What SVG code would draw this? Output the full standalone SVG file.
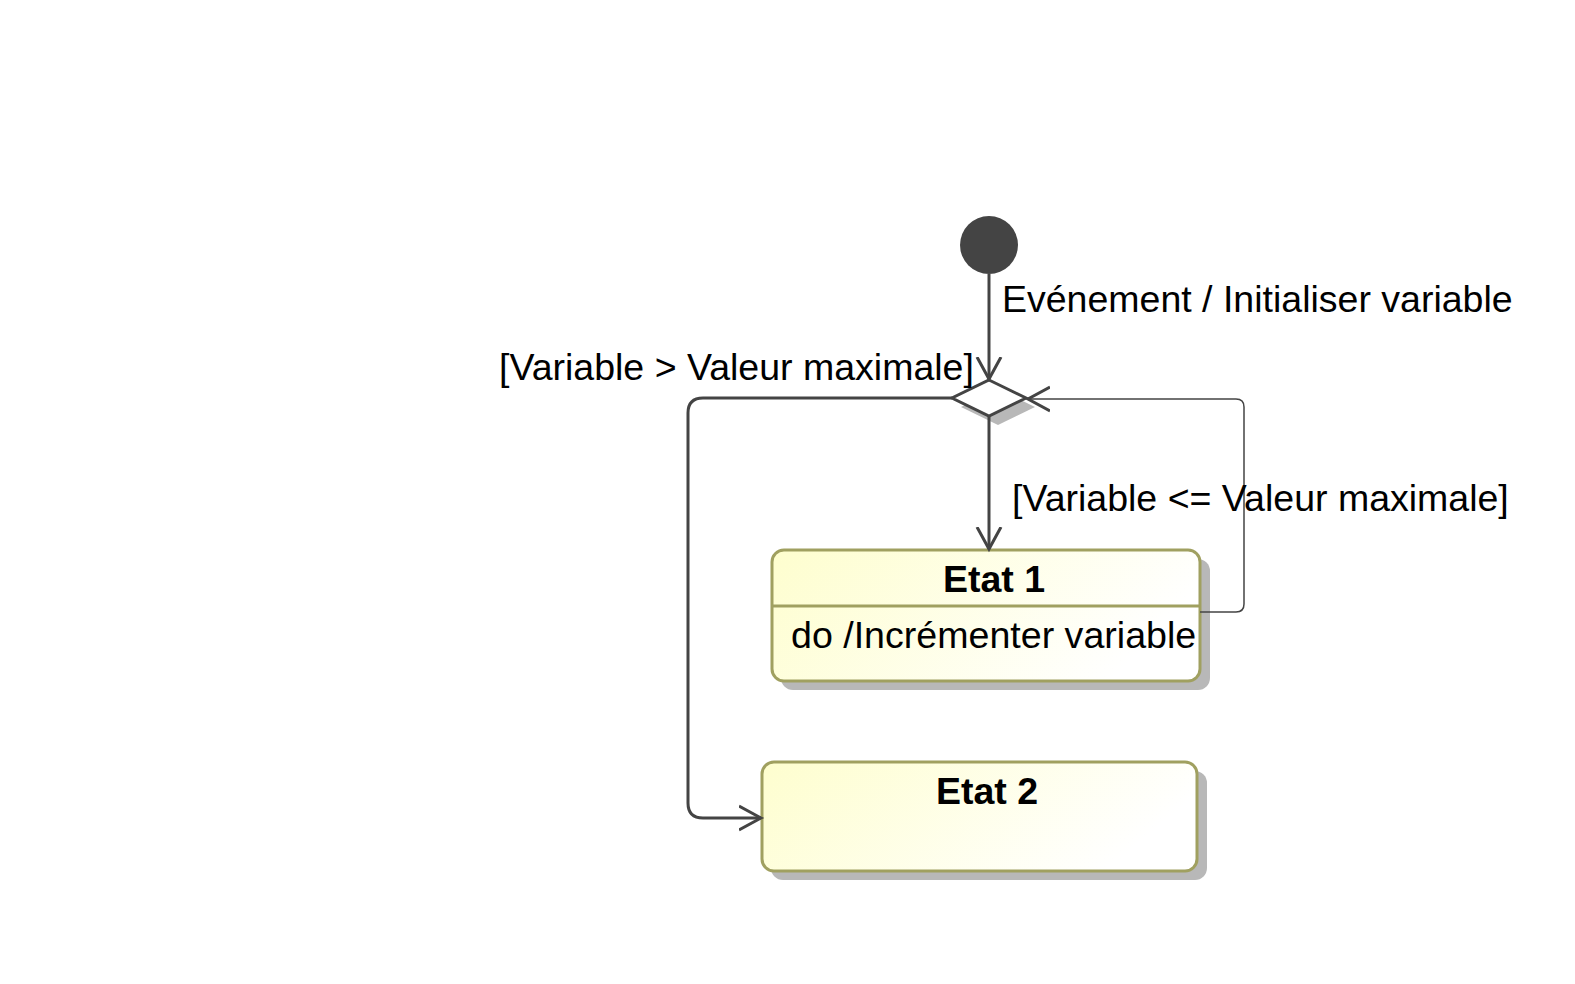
<svg xmlns="http://www.w3.org/2000/svg" width="1575" height="984" viewBox="0 0 1575 984">
<defs>
<linearGradient id="g" x1="0" y1="0" x2="1" y2="0.3">
<stop offset="0" stop-color="#FEFECE"/>
<stop offset="1" stop-color="#FFFFFF"/>
</linearGradient>
<marker id="arr" markerWidth="30" markerHeight="30" refX="22" refY="12" orient="auto" markerUnits="userSpaceOnUse" viewBox="0 0 30 24">
<path d="M0,0 L22,12 L0,24" fill="none" stroke="#444444" stroke-width="3"/>
</marker>
</defs>
<style>
.t{font-family:"Liberation Sans",Arial,sans-serif;font-size:37.5px;fill:#000}
.b{font-weight:bold;text-anchor:middle}
.st{fill:url(#g);stroke:#A0A060;stroke-width:3}
.sh{fill:#B8B8B8}
.ln{fill:none;stroke:#444444;stroke-width:3}
</style>
<rect width="1575" height="984" fill="#FFFFFF"/>
<g id="start">
<circle cx="989" cy="245" r="29" fill="#444444"/>
</g>
<g id="choice">
<polygon points="998,389 1035,407 998,425 961,407" fill="#B8B8B8"/>
<polygon points="989,380 1026,398 989,416 952,398" fill="#FFFFFF" stroke="#444444" stroke-width="3"/>
</g>
<g id="etat1">
<rect class="sh" x="781" y="559" width="429" height="131" rx="12"/>
<rect class="st" x="772" y="550" width="428" height="131" rx="12"/>
<line x1="772" y1="606" x2="1200" y2="606" stroke="#A0A060" stroke-width="3"/>
<text class="t b" x="994" y="592">Etat 1</text>
<text class="t" x="791" y="648" style="font-size:37.6px">do /Incrémenter variable</text>
</g>
<g id="etat2">
<rect class="sh" x="771" y="771" width="436" height="109" rx="12"/>
<rect class="st" x="762" y="762" width="435" height="109" rx="12"/>
<text class="t b" x="987" y="804">Etat 2</text>
</g>
<g id="connectors">
<line class="ln" x1="989" y1="274" x2="989" y2="379" marker-end="url(#arr)"/>
<line class="ln" x1="989" y1="416" x2="989" y2="549" marker-end="url(#arr)"/>
<path class="ln" d="M952,398 L703,398 Q688,398 688,413 L688,803 Q688,818 703,818 L761,818" marker-end="url(#arr)"/>
<path d="M1200,612 L1236,612 Q1244,612 1244,604 L1244,407 Q1244,399 1236,399 L1028,399" fill="none" stroke="#444444" stroke-width="1.5" marker-end="url(#arr)"/>
<text class="t" x="1002" y="312">Evénement / Initialiser variable</text>
<text class="t" x="499" y="380">[Variable &gt; Valeur maximale]</text>
<text class="t" x="1012" y="511">[Variable &lt;= Valeur maximale]</text>
</g>
</svg>
